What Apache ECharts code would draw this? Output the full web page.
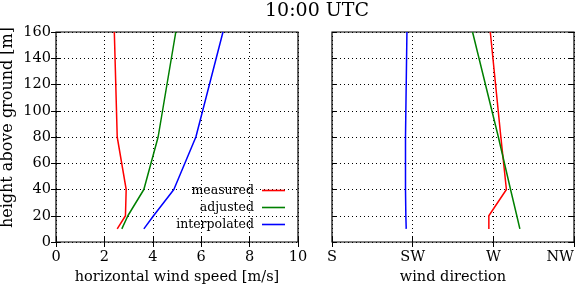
<!DOCTYPE html>
<html><head><meta charset="utf-8">
<script src="https://cdn.jsdelivr.net/npm/echarts@6/dist/echarts.min.js"></script>
<style>html,body{margin:0;padding:0;background:#fff}#c{width:581px;height:285px}</style>
</head><body><div id="c"></div>
<script>
const heights = [10, 20, 40, 80, 160];
const speedMeasured = [2.53, 2.87, 2.9, 2.53, 2.41];
const speedAdjusted = [2.72, 2.97, 3.63, 4.22, 4.95];
const speedInterpolated = [3.63, 4.03, 4.87, 5.78, 6.9];
const dirMeasured = [267.5, 267.5, 277.3, 274.2, 268.3];
const dirAdjusted = [284.8, 283.1, 279.6, 272.8, 258.4];
const dirInterpolated = [221.4, 221.2, 221.0, 221.0, 221.8];
const dirTickLabels = {180: 'S', 225: 'SW', 270: 'W', 315: 'NW'};
const seriesNames = ['measured', 'adjusted', 'interpolated'];
const colors = ['#ff0000', '#008000', '#0000ff'];

const FONT = 'DejaVu Serif';
const FS = 14.5;
const pair = (xs) => xs.map((x, i) => [x, heights[i]]);
const gridBase = {top: 32, width: 242, height: 210, show: true, borderColor: '#000', borderWidth: 1.2,
  backgroundColor: 'transparent', containLabel: false, outerBoundsMode: 'none'};
const grid1 = Object.assign({left: 56}, gridBase);
const grid2 = Object.assign({left: 332}, gridBase);
const dotted = {show: true, lineStyle: {color: '#000', type: [1, 3], width: 1}};
const tickIn = {show: true, inside: true, length: 5, lineStyle: {color: '#000', width: 1}};
const lbl = {fontFamily: FONT, fontSize: FS, color: '#000'};

const option = {
  animation: false,
  backgroundColor: '#fff',
  title: {text: '10:00 UTC', left: 265, top: 2, padding: 0, textStyle: {fontFamily: FONT, fontSize: 19, fontWeight: 'normal', color: '#000'}},
  grid: [grid1, grid2],
  legend: seriesNames.map((n, i) => ({
    data: [n], right: 296, top: 184 + i * 17, align: 'right', orient: 'vertical', padding: 0,
    itemWidth: 23, itemHeight: 10, icon: 'path://M0,4.2L23,4.2L23,5.8L0,5.8Z',
    textStyle: {fontFamily: FONT, fontSize: 12.5, color: '#000', padding: [0, 3, 0, 0]}
  })),
  xAxis: [
    {gridIndex: 0, type: 'value', min: 0, max: 10, interval: 2, position: 'bottom',
     name: 'horizontal wind speed [m/s]', nameLocation: 'middle', nameGap: 25, nameTextStyle: lbl,
     axisLine: {show: false}, axisTick: tickIn, axisLabel: Object.assign({margin: 8}, lbl), splitLine: dotted},
    {gridIndex: 0, type: 'value', min: 0, max: 10, interval: 2, position: 'top',
     axisLine: {show: false}, axisTick: tickIn, axisLabel: {show: false}, splitLine: {show: false}},
    {gridIndex: 1, type: 'value', min: 180, max: 315, interval: 45, position: 'bottom',
     name: 'wind direction', nameLocation: 'middle', nameGap: 25, nameTextStyle: lbl,
     axisLine: {show: false}, axisTick: tickIn,
     axisLabel: Object.assign({margin: 8, alignMaxLabel: 'right', formatter: v => dirTickLabels[v] || ''}, lbl), splitLine: dotted},
    {gridIndex: 1, type: 'value', min: 180, max: 315, interval: 45, position: 'top',
     axisLine: {show: false}, axisTick: tickIn, axisLabel: {show: false}, splitLine: {show: false}}
  ],
  yAxis: [
    {gridIndex: 0, type: 'value', min: 0, max: 160, interval: 20, position: 'left',
     axisLine: {show: false}, axisTick: tickIn, axisLabel: Object.assign({margin: 5}, lbl), splitLine: dotted},
    {gridIndex: 0, type: 'value', min: 0, max: 160, interval: 20, position: 'right',
     axisLine: {show: false}, axisTick: tickIn, axisLabel: {show: false}, splitLine: {show: false}},
    {gridIndex: 1, type: 'value', min: 0, max: 160, interval: 20, position: 'left',
     axisLine: {show: false}, axisTick: tickIn, axisLabel: {show: false}, splitLine: dotted},
    {gridIndex: 1, type: 'value', min: 0, max: 160, interval: 20, position: 'right',
     axisLine: {show: false}, axisTick: tickIn, axisLabel: {show: false}, splitLine: {show: false}}
  ],
  graphic: [{type: 'text', left: 0, top: 27, rotation: Math.PI / 2,
    style: {text: 'height above ground [m]', font: '16px "' + FONT + '"', fill: '#000'}}],
  series: [
    [speedMeasured, 0, 0, 0], [speedAdjusted, 1, 0, 0], [speedInterpolated, 2, 0, 0],
    [dirMeasured, 0, 2, 2], [dirAdjusted, 1, 2, 2], [dirInterpolated, 2, 2, 2]
  ].map(([vals, ci, xi, yi]) => ({
    name: seriesNames[ci], type: 'line', xAxisIndex: xi, yAxisIndex: yi,
    data: pair(vals), symbol: 'none', color: colors[ci],
    lineStyle: {color: colors[ci], width: 1.5}
  }))
};
const chart = echarts.init(document.getElementById('c'), null, {renderer: 'canvas'});
chart.setOption(option);
</script></body></html>
